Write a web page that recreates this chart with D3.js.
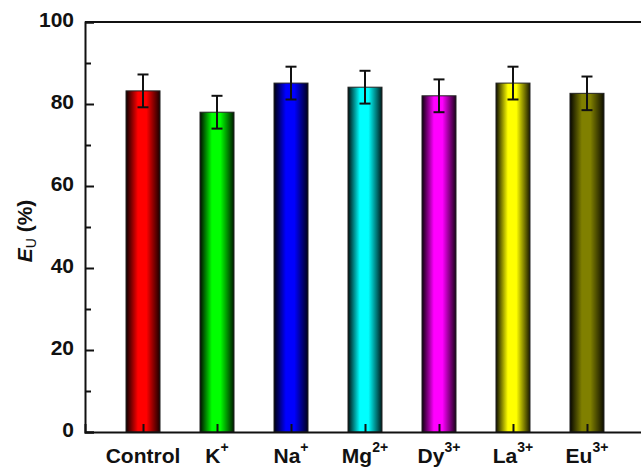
<!DOCTYPE html>
<html><head><meta charset="utf-8">
<script src="https://cdn.jsdelivr.net/npm/d3@7"></script>
<style>body{margin:0;background:#fff}svg{display:block}</style>
</head><body>
<script>
const categories = ["Control", "K", "Na", "Mg", "Dy", "La", "Eu"];
const superscripts = ["", "+", "+", "2+", "3+", "3+", "3+"];
const values = [83.2, 78.0, 85.1, 84.1, 82.0, 85.1, 82.6];
const errors = [4.0, 4.0, 4.0, 4.0, 4.0, 4.0, 4.1];
const colors = ["#ff0000", "#00ff00", "#0000ff", "#00ffff", "#ff00ff", "#ffff00", "#808000"];
const yTicks = [0, 20, 40, 60, 80, 100];
const yMinorTicks = [10, 30, 50, 70, 90];

const W = 641, H = 467;
const m = {left: 85, top: 22, right: 645, bottom: 432};
const svg = d3.select("body").append("svg").attr("width", W).attr("height", H);
const x = d3.scalePoint().domain(categories).range([m.left, m.right]).padding(0.784);
const y = d3.scaleLinear().domain([0, 100]).range([m.bottom, m.top]);
const barW = 34;
const font = "Arial, 'Liberation Sans', sans-serif";

const defs = svg.append("defs");
colors.forEach((c, i) => {
  const g = defs.append("linearGradient").attr("id", "g" + i).attr("x1", "0").attr("x2", "1").attr("y1", "0").attr("y2", "0");
  const dark = d3.interpolateRgb("#000", c);
  g.append("stop").attr("offset", "0").attr("stop-color", dark(0.05));
  g.append("stop").attr("offset", "0.35").attr("stop-color", c);
  g.append("stop").attr("offset", "0.6").attr("stop-color", c);
  g.append("stop").attr("offset", "1").attr("stop-color", dark(0.1));
});

// bars
svg.append("g").selectAll("rect").data(values).join("rect")
  .attr("x", (d, i) => x(categories[i]) - barW / 2)
  .attr("y", d => y(d))
  .attr("width", barW)
  .attr("height", d => y(0) - y(d))
  .attr("fill", (d, i) => `url(#g${i})`)
  .attr("stroke", "#222").attr("stroke-width", 1);

// error bars
const eb = svg.append("g").attr("stroke", "#111").attr("stroke-width", 2);
values.forEach((v, i) => {
  const cx = x(categories[i]);
  eb.append("line").attr("x1", cx).attr("x2", cx).attr("y1", y(v + errors[i])).attr("y2", y(v - errors[i]));
  [v + errors[i], v - errors[i]].forEach(t => {
    eb.append("line").attr("x1", cx - 5.5).attr("x2", cx + 5.5).attr("y1", y(t)).attr("y2", y(t));
  });
});

// frame lines
const fr = svg.append("g").attr("stroke", "#111").attr("stroke-width", 2);
fr.append("line").attr("x1", m.left).attr("x2", m.right).attr("y1", m.top).attr("y2", m.top);

// y axis
const yAxis = svg.append("g").attr("transform", `translate(${m.left},0)`)
  .call(d3.axisLeft(y).tickValues(yTicks).tickSize(-9).tickPadding(11).tickFormat(d3.format("d")));
yAxis.select(".domain").attr("stroke", "#111").attr("stroke-width", 2);
yAxis.selectAll(".tick line").attr("stroke", "#111").attr("stroke-width", 2);
yAxis.selectAll(".tick text").attr("font-family", font).attr("font-weight", "bold").attr("font-size", 21).attr("fill", "#111").attr("dy", "0.22em");
const yMinor = svg.append("g").attr("transform", `translate(${m.left},0)`)
  .call(d3.axisLeft(y).tickValues(yMinorTicks).tickSize(-6).tickFormat(""));
yMinor.select(".domain").remove();
yMinor.selectAll(".tick line").attr("stroke", "#111").attr("stroke-width", 2);

// x axis
const xAxis = svg.append("g").attr("transform", `translate(0,${m.bottom})`)
  .call(d3.axisBottom(x).tickSize(-8).tickFormat(""));
xAxis.select(".domain").attr("stroke", "#111").attr("stroke-width", 2);
xAxis.selectAll(".tick line").attr("stroke", "#111").attr("stroke-width", 2);

// x labels
const xl = svg.append("g").attr("font-family", font).attr("font-weight", "bold").attr("font-size", 21).attr("fill", "#111");
categories.forEach((c, i) => {
  const t = xl.append("text").attr("x", x(c)).attr("y", 463).attr("text-anchor", "middle");
  t.append("tspan").text(c);
  if (superscripts[i]) t.append("tspan").attr("dy", -11).attr("font-size", 14).text(superscripts[i]);
});

// y label
const yl = svg.append("text").attr("transform", `translate(32,${(m.top + m.bottom) / 2 + 4}) rotate(-90)`)
  .attr("text-anchor", "middle").attr("font-family", font).attr("font-weight", "bold").attr("font-size", 21).attr("fill", "#111");
yl.append("tspan").attr("font-style", "italic").text("E");
yl.append("tspan").attr("font-size", 14).attr("font-weight", "normal").attr("dy", 4).text("U");
yl.append("tspan").attr("dy", -4).text(" (%)");
</script>
</body></html>
